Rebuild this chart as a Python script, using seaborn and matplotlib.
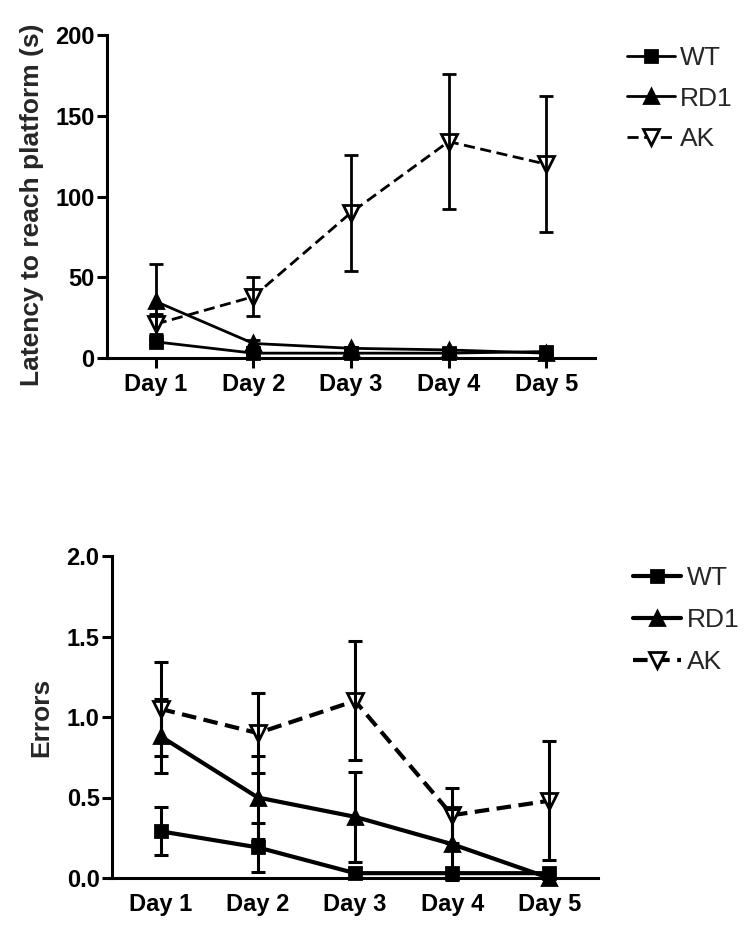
import matplotlib
matplotlib.use("Agg")
import matplotlib.pyplot as plt
from matplotlib.ticker import FormatStrFormatter
import seaborn as sns
import numpy as np

# ---------------- data ----------------
day_labels = ["Day 1", "Day 2", "Day 3", "Day 4", "Day 5"]
days = [1, 2, 3, 4, 5]
groups = ["WT", "RD1", "AK"]

# latency to reach platform (s): mean and error
lat_wt = [10, 3, 3, 3, 4]
lat_wt_err = [2, 1, 1, 1, 1]
lat_rd1 = [35, 9, 6, 5, 3]
lat_rd1_err = [23, 2, 1, 1, 1]
lat_ak = [21, 38, 90, 134, 120]
lat_ak_err = [6, 12, 36, 42, 42]

# errors: mean and error
err_wt = [0.29, 0.19, 0.03, 0.03, 0.03]
err_wt_err = [0.15, 0.15, 0.0, 0.0, 0.0]
err_rd1 = [0.88, 0.50, 0.38, 0.21, 0.0]
err_rd1_err = [0.23, 0.26, 0.28, 0.22, 0.0]
err_ak = [1.05, 0.90, 1.10, 0.39, 0.48]
err_ak_err = [0.29, 0.25, 0.37, 0.17, 0.37]

# ---------------- style ----------------
sns.set_style("ticks")
plt.rcParams["font.family"] = ["Liberation Sans", "DejaVu Sans"]
plt.rcParams["font.weight"] = "bold"
plt.rcParams["axes.labelweight"] = "bold"

fig = plt.figure(figsize=(7.5, 9.4), dpi=100)
ax1 = fig.add_axes([107 / 750, 1 - 358 / 940, (595 - 107) / 750, (358 - 35) / 940])
ax2 = fig.add_axes([112 / 750, 1 - 878 / 940, (598 - 112) / 750, (878 - 556) / 940])

marker_map = {"WT": "s", "RD1": "^", "AK": "v"}
face_map = {"WT": "black", "RD1": "black", "AK": "white"}
size_map = {"WT": 9, "RD1": 9.5, "AK": 11}


def draw_panel(ax, means, errs, lw, elw, dash):
    for g, m, e in zip(groups, means, errs):
        sns.lineplot(x=days, y=m, ax=ax, color="black", lw=lw,
                     marker=marker_map[g], markersize=size_map[g],
                     markerfacecolor=face_map[g], markeredgecolor="black",
                     markeredgewidth=2, label=g, errorbar=None, clip_on=False,
                     zorder=3)
        line = ax.get_lines()[-1]
        if g == "AK":
            line.set_dashes(dash)
        e = np.asarray(e, dtype=float)
        mask = e > 0
        ax.errorbar(np.asarray(days)[mask], np.asarray(m)[mask], yerr=e[mask],
                    fmt="none", ecolor="black", elinewidth=elw, capsize=5,
                    capthick=elw, zorder=4, clip_on=False)
    ax.set_xlim(0.5, 5.5)
    ax.set_xticks(days)
    ax.set_xticklabels(day_labels)
    for s in ["top", "right"]:
        ax.spines[s].set_visible(False)
    for s in ["left", "bottom"]:
        ax.spines[s].set_linewidth(2.2)
        ax.spines[s].set_color("black")


# top panel
draw_panel(ax1, [lat_wt, lat_rd1, lat_ak], [lat_wt_err, lat_rd1_err, lat_ak_err],
           lw=2, elw=2, dash=(4, 2))
ax1.set_ylim(0, 200)
ax1.set_yticks([0, 50, 100, 150, 200])
ax1.tick_params(axis="both", direction="out", length=7, width=2.2,
                labelsize=17, pad=2, colors="black")
ax1.tick_params(axis="x", pad=4)
ax1.set_ylabel("Latency to reach platform (s)", fontsize=19, fontweight="bold")
ax1.yaxis.set_label_coords(-0.129, 0.474)
ax1.legend(loc="upper left", bbox_to_anchor=(627 / 750, 1 - 46 / 940),
           bbox_transform=fig.transFigure, frameon=False, borderpad=0,
           borderaxespad=0, handlelength=1.8, handletextpad=0.22,
           labelspacing=0.63, prop={"weight": "normal", "size": 19})

# bottom panel
draw_panel(ax2, [err_wt, err_rd1, err_ak], [err_wt_err, err_rd1_err, err_ak_err],
           lw=3, elw=2.2, dash=(3.5, 1.8))
ax2.set_ylim(0, 2.0)
ax2.set_yticks([0, 0.5, 1.0, 1.5, 2.0])
ax2.yaxis.set_major_formatter(FormatStrFormatter("%.1f"))
ax2.tick_params(axis="y", direction="out", length=7, width=2.2,
                labelsize=17, pad=2, colors="black")
ax2.tick_params(axis="x", length=0, labelsize=17, pad=11, colors="black")
ax2.set_ylabel("Errors", fontsize=19, fontweight="bold")
ax2.yaxis.set_label_coords(-0.121, 0.5)
ax2.legend(loc="upper left", bbox_to_anchor=(633 / 750, 1 - 566 / 940),
           bbox_transform=fig.transFigure, frameon=False, borderpad=0,
           borderaxespad=0, handlelength=1.8, handletextpad=0.25,
           labelspacing=0.68, prop={"weight": "normal", "size": 19})

fig.savefig("out.png", dpi=100, facecolor="white")
